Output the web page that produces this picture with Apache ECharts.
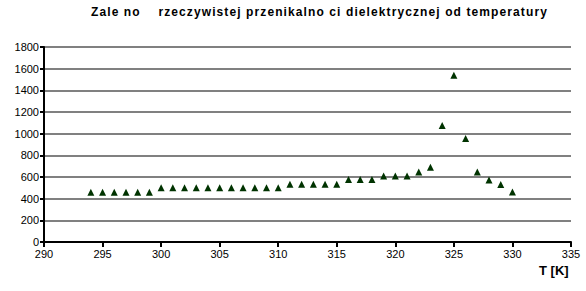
<!DOCTYPE html>
<html><head><meta charset="utf-8">
<script src="https://cdn.jsdelivr.net/npm/echarts@6/dist/echarts.min.js"></script>
<style>html,body{margin:0;padding:0;background:#fff}#c{width:586px;height:291px}</style>
</head><body><div id="c"></div>
<script>
const titleText = "Zale no    rzeczywistej przenikalno ci dielektrycznej od temperatury";
const xName = "T [K]";
const temperatures = [294,295,296,297,298,299,300,301,302,303,304,305,306,307,308,309,310,311,312,313,314,315,316,317,318,319,320,321,322,323,324,325,326,327,328,329,330];
const permittivity = [460,460,460,460,460,460,500,500,500,500,500,500,500,500,500,500,500,533,533,533,533,533,576,576,576,610,610,610,647,690,1075,1540,955,647,573,530,462];
const data = temperatures.map((t,i)=>[t, permittivity[i]]);
const chart = echarts.init(document.getElementById('c'), null, {renderer:'svg'});
const font = '"Liberation Sans", Arial, sans-serif';
chart.setOption({
  animation:false,
  backgroundColor:'#fff',
  title:{text:titleText,left:91,top:6,padding:0,textStyle:{fontFamily:font,fontSize:12,fontWeight:'bold',color:'#000'}},
  grid:{left:44,right:15,top:47,bottom:49,containLabel:false},
  xAxis:{type:'value',min:290,max:335,interval:5,
    axisLine:{lineStyle:{color:'#000',width:2}},
    axisTick:{show:true,length:5,lineStyle:{color:'#000',width:2}},
    axisLabel:{fontFamily:font,fontSize:11,color:'#000',margin:6,formatter:v=>String(v)},
    splitLine:{show:false}},
  yAxis:{type:'value',min:0,max:1800,interval:200,
    axisLine:{show:true,lineStyle:{color:'#000',width:2}},
    axisTick:{show:true,length:4,lineStyle:{color:'#000',width:2}},
    axisLabel:{fontFamily:font,fontSize:11,color:'#000',margin:5,formatter:v=>String(v)},
    splitLine:{show:true,lineStyle:{color:'#808080',width:2}}},
  graphic:[{type:'text',left:539,top:264,style:{text:xName,font:'bold 13px "Liberation Sans", Arial, sans-serif',fill:'#000'}}],
  series:[{type:'scatter',data:data,symbol:'triangle',symbolSize:[7,7],itemStyle:{color:'#003300',opacity:1}}]
});
document.querySelectorAll('#c svg text').forEach(t=>{
  if (t.textContent.indexOf('rzeczywistej')>=0) { t.style.letterSpacing='1.1px'; t.style.whiteSpace='pre'; t.setAttribute('xml:space','preserve'); }
});
</script></body></html>
